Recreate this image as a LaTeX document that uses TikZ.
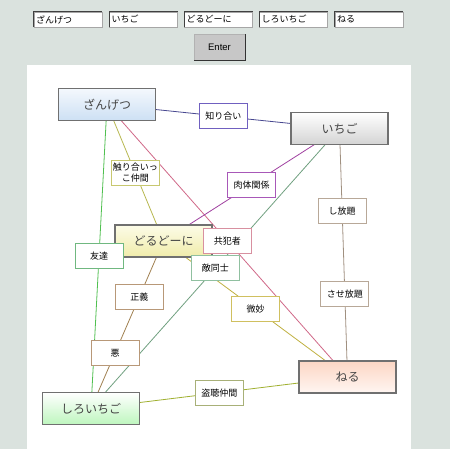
\documentclass[tikz,border=0pt]{standalone}
\usepackage{fontspec}
\setmainfont{Noto Sans CJK JP}
\newfontfamily\latinf{Liberation Sans}
\usetikzlibrary{calc}
\pgfdeclarelayer{bg}
\pgfdeclarelayer{paper}
\pgfsetlayers{paper,bg,main}
\definecolor{pagebg}{HTML}{DAE2DE}
\definecolor{maintext}{HTML}{454545}
\definecolor{mainborder}{HTML}{707070}
% gradients
\definecolor{zanB}{HTML}{CDE0F4}
\definecolor{zanT}{HTML}{F4F8FD}
\definecolor{doruT}{HTML}{FCFCE8}
\definecolor{doruB}{HTML}{F0ECAA}
\definecolor{shiroB}{HTML}{BEF6BE}
\definecolor{neruT}{HTML}{FCD6C4}
\definecolor{neruB}{HTML}{FFF6F2}
% label borders
\definecolor{bShiri}{HTML}{7060C0}
\definecolor{bSawari}{HTML}{C8C870}
\definecolor{bNiku}{HTML}{A858B8}
\definecolor{bHoudai}{HTML}{B8A898}
\definecolor{bTomo}{HTML}{70B880}
\definecolor{bKyou}{HTML}{D890A0}
\definecolor{bTeki}{HTML}{90C0A0}
\definecolor{bSei}{HTML}{B89878}
\definecolor{bBimyou}{HTML}{D0C060}
\definecolor{bTouchou}{HTML}{A8B078}
% line colours
\definecolor{cZI}{HTML}{484890}
\definecolor{cZD}{HTML}{B8B850}
\definecolor{cZN}{HTML}{D06888}
\definecolor{cZS}{HTML}{50C050}
\definecolor{cID}{HTML}{A040A0}
\definecolor{cIS}{HTML}{70A080}
\definecolor{cIN}{HTML}{A09080}
\definecolor{cDS}{HTML}{A08050}
\definecolor{cDN}{HTML}{C0B040}
\definecolor{cSN}{HTML}{A0B030}
\tikzset{
  mainbox/.style={draw=mainborder, line width=1.3pt, minimum width=97pt, minimum height=32pt,
    inner sep=0pt, text=maintext, font=\fontsize{12}{14}\selectfont},
  labbox/.style={draw=#1, fill=white, line width=1pt, minimum width=48pt, minimum height=25pt,
    inner sep=0pt, text=black, font=\fontsize{9}{11}\selectfont, align=center},
  rel/.style={draw=#1, line width=0.8pt},
  inbox/.style={draw=gray!70, fill=white, line width=0.8pt, minimum width=68pt, minimum height=15pt,
    inner sep=1.5pt, text=black, font=\fontsize{9}{10}\selectfont, text width=64pt, align=left},
}
\begin{document}
\begin{tikzpicture}[x=1pt,y=-1pt]
\useasboundingbox (0,0) rectangle (450,449);
\begin{pgfonlayer}{paper}
\fill[pagebg] (0,0) rectangle (450,449);
\fill[white] (27,65) rectangle (411,449);
\end{pgfonlayer}

% input fields
\foreach \x/\t/\n in {68/ざんげつ/i1,143.5/いちご/i2,218.5/どるどーに/i3,293.5/しろいちご/i4,369/ねる/i5}{
  \node[inbox] (\n) at (\x,19.5) {\t};
  \draw[black!75, line width=1pt] (\n.south west) -- (\n.north west) -- (\n.north east);
}
% button
\node[draw=gray!60, fill=black!22, minimum width=51pt, minimum height=26pt, inner sep=0pt,
  font=\latinf\fontsize{9.5}{11}\selectfont] (enter) at (219.5,47) {Enter};
\draw[black!80, line width=1pt] (enter.south west) -- (enter.south east) -- (enter.north east);

% main nodes
\node[mainbox, top color=zanT, bottom color=zanB] (zan) at (107,104.5) {ざんげつ};
\node[mainbox, top color=white, bottom color=black!17] (ichi) at (339.5,128.5) {いちご};
\node[mainbox, top color=doruT, bottom color=doruB] (doru) at (163.5,241) {どるどーに};
\node[mainbox, top color=white, bottom color=shiroB] (shiro) at (91,408.5) {しろいちご};
\node[mainbox, top color=neruT, bottom color=neruB] (neru) at (347.5,377) {ねる};

% label nodes
\node[labbox=bShiri] (l1) at ($(zan)!0.5!(ichi)$) {知り合い};
\node[labbox=bSawari] (l2) at ($(zan)!0.5!(doru)$) {触り合いっ\\こ仲間};
\node[labbox=bNiku] (l3) at ($(ichi)!0.5!(doru)$) {肉体関係};
\node[labbox=bHoudai] (l4) at ($(ichi)!0.333!(neru)$) {し放題};
\node[labbox=bHoudai] (l5) at ($(ichi)!0.667!(neru)$) {させ放題};
\node[labbox=bTomo] (l6) at ($(zan)!0.5!(shiro)$) {友達};
\node[labbox=bKyou] (l7) at ($(zan)!0.5!(neru)$) {共犯者};
\node[labbox=bTeki] (l8) at ($(ichi)!0.5!(shiro)$) {敵同士};
\node[labbox=bSei] (l9) at ($(doru)!0.333!(shiro)$) {正義};
\node[labbox=bBimyou] (l10) at ($(doru)!0.5!(neru)$) {微妙};
\node[labbox=bSei] (l11) at ($(doru)!0.667!(shiro)$) {悪};
\node[labbox=bTouchou] (l12) at ($(shiro)!0.5!(neru)$) {盗聴仲間};

% connectors (behind the boxes)
\begin{pgfonlayer}{bg}
\draw[rel=cZI] (zan.center) -- (ichi.center);
\draw[rel=cZD] (zan.center) -- (doru.center);
\draw[rel=cZN] (zan.center) -- (neru.center);
\draw[rel=cZS] (zan.center) -- (shiro.center);
\draw[rel=cID] (ichi.center) -- (doru.center);
\draw[rel=cIS] (ichi.center) -- (shiro.center);
\draw[rel=cIN] (ichi.center) -- (neru.center);
\draw[rel=cDS] (doru.center) -- (shiro.center);
\draw[rel=cDN] (doru.center) -- (neru.center);
\draw[rel=cSN] (shiro.center) -- (neru.center);
\end{pgfonlayer}
\end{tikzpicture}
\end{document}
